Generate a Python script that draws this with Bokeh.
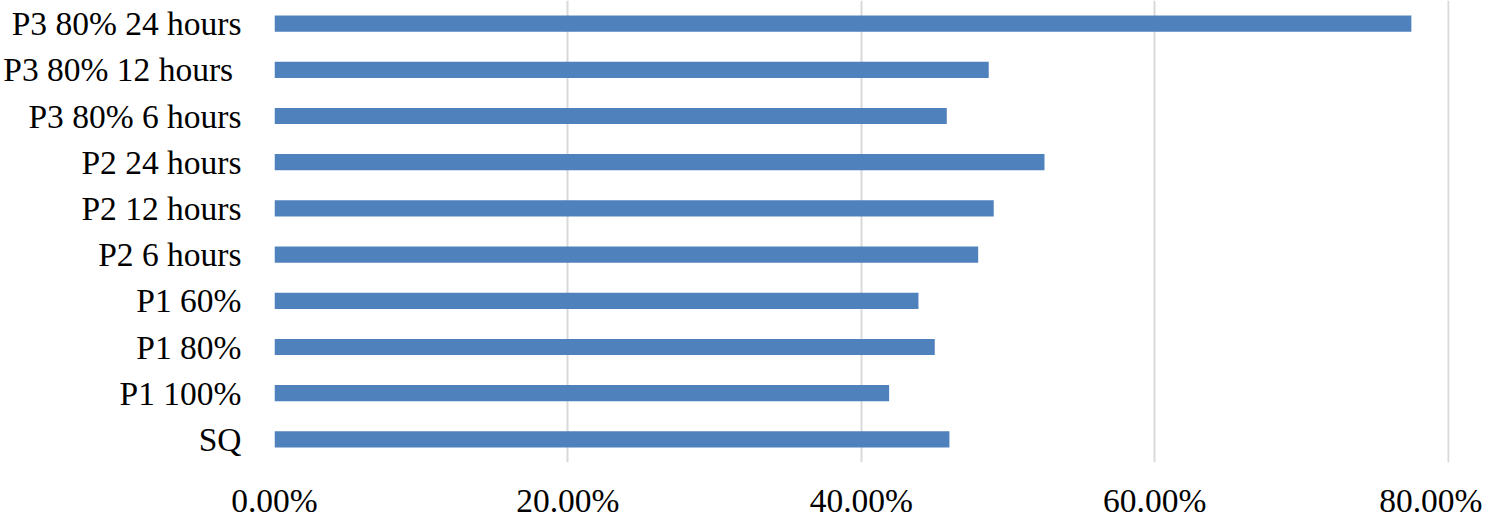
from bokeh.plotting import figure
from bokeh.models import ColumnDataSource, FactorRange, Range1d, FixedTicker, NumeralTickFormatter
from bokeh.embed import file_html
from bokeh.resources import INLINE

categories = ["SQ", "P1 100%", "P1 80%", "P1 60%", "P2 6 hours", "P2 12 hours",
              "P2 24 hours", "P3 80% 6 hours", "P3 80% 12 hours ", "P3 80% 24 hours"]
values = [0.4601, 0.4190, 0.4501, 0.4390, 0.4797, 0.4903,
          0.5249, 0.4583, 0.4869, 0.7750]
x_ticks = [0.0, 0.2, 0.4, 0.6, 0.8]

src = ColumnDataSource(data=dict(cat=categories, val=values))

p = figure(width=1482, height=521, output_backend="svg", toolbar_location=None,
           y_range=FactorRange(*categories, range_padding=0),
           x_range=Range1d(0.0, 0.801))
p.min_border_left = 265
p.min_border_right = 33
p.min_border_top = 0
p.min_border_bottom = 0
p.outline_line_color = None

p.hbar(y="cat", right="val", left=0, height=0.35, source=src,
       fill_color="#4F81BD", line_color=None)

p.xgrid.ticker = FixedTicker(ticks=x_ticks)
p.xgrid.grid_line_color = "#D9D9D9"
p.xgrid.grid_line_width = 2
p.ygrid.grid_line_color = None

p.xaxis.ticker = FixedTicker(ticks=x_ticks)
p.xaxis.formatter = NumeralTickFormatter(format="0.00%")
for ax in (p.xaxis[0], p.yaxis[0]):
    ax.axis_line_color = None
    ax.major_tick_line_color = None
    ax.minor_tick_line_color = None
    ax.major_label_text_font = "Liberation Serif"
    ax.major_label_text_font_size = "33.5px"
    ax.major_label_text_color = "#000000"
p.xaxis.major_label_standoff = 13
p.yaxis.major_label_standoff = 27

open("out.html", "w").write(file_html(p, INLINE))
